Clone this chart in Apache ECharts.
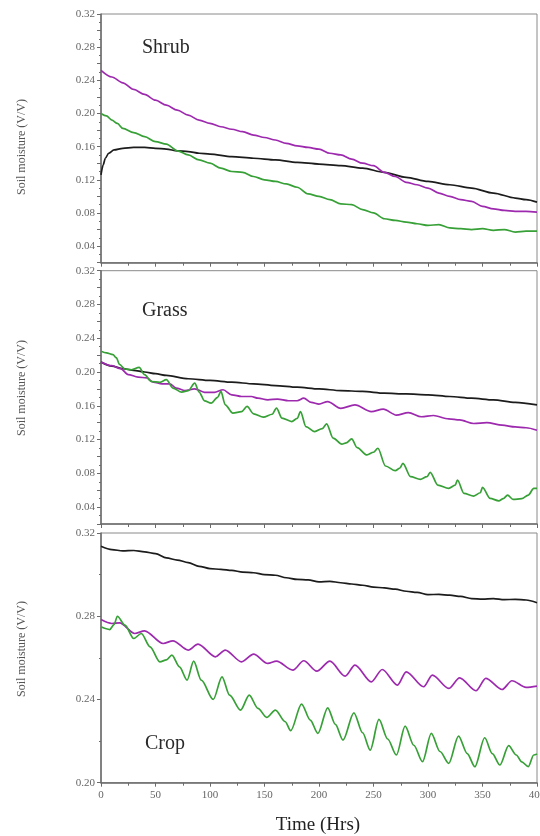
<!DOCTYPE html>
<html>
<head>
<meta charset="utf-8">
<script src="https://cdn.jsdelivr.net/npm/echarts@6/dist/echarts.min.js"></script>
<style>
html,body{margin:0;padding:0;background:#fff;}
#chart{width:540px;height:836px;}
</style>
</head>
<body>
<div id="chart"></div>
<script>
// ---- Data (time in hours, soil moisture V/V) ----
const panelNames = ['Shrub', 'Grass', 'Crop'];
const xTicks = [0, 50, 100, 150, 200, 250, 300, 350, 400];

const shrubBlack = [[0,0.126],[2,0.138],[4,0.146],[7,0.152],[12,0.156],[20,0.158],[30,0.159],[40,0.159],[50,0.158],[60,0.157],[70,0.155],[80,0.154],[90,0.152],[100,0.151],[120,0.148],[140,0.146],[160,0.144],[180,0.141],[200,0.139],[220,0.137],[240,0.134],[260,0.129],[280,0.123],[300,0.118],[320,0.114],[340,0.110],[360,0.104],[380,0.098],[390,0.096],[400,0.093]];
const shrubPurple = [[0,0.252],[10,0.244],[20,0.237],[30,0.229],[40,0.223],[50,0.216],[60,0.210],[70,0.204],[80,0.198],[90,0.192],[100,0.188],[110,0.184],[120,0.181],[130,0.178],[140,0.174],[150,0.171],[160,0.168],[170,0.164],[180,0.161],[190,0.159],[200,0.157],[210,0.152],[220,0.150],[230,0.145],[240,0.140],[250,0.137],[260,0.129],[270,0.124],[280,0.117],[290,0.114],[300,0.110],[310,0.104],[320,0.100],[330,0.096],[340,0.094],[350,0.088],[360,0.085],[370,0.083],[380,0.082],[390,0.082],[400,0.081]];
const shrubGreen = [[0,0.200],[5,0.197],[10,0.192],[15,0.188],[20,0.182],[30,0.177],[40,0.172],[50,0.166],[60,0.163],[70,0.155],[80,0.150],[90,0.144],[100,0.140],[110,0.134],[120,0.130],[130,0.129],[140,0.124],[150,0.120],[160,0.118],[170,0.115],[180,0.111],[190,0.103],[200,0.100],[210,0.096],[220,0.091],[230,0.090],[240,0.084],[250,0.080],[260,0.073],[270,0.071],[280,0.069],[290,0.067],[300,0.065],[310,0.066],[320,0.062],[330,0.061],[340,0.060],[350,0.061],[360,0.059],[370,0.060],[380,0.057],[390,0.058],[400,0.058]];

const grassBlack = [[0,0.212],[10,0.207],[20,0.204],[30,0.202],[40,0.200],[50,0.198],[60,0.196],[80,0.192],[100,0.190],[120,0.188],[140,0.186],[160,0.184],[180,0.182],[200,0.180],[220,0.178],[240,0.177],[260,0.175],[280,0.174],[300,0.173],[320,0.171],[340,0.169],[360,0.167],[380,0.164],[400,0.161]];
const grassPurple = [[0,0.212],[10,0.2075],[18,0.204],[25,0.197],[34,0.194],[42,0.193],[48,0.188],[56,0.186],[63,0.186],[69,0.181],[77,0.178],[86,0.180],[95,0.176],[104,0.176],[112,0.179],[120,0.173],[129,0.171],[138,0.171],[144,0.169],[153,0.167],[162,0.168],[172,0.166],[180,0.166],[186,0.169],[193,0.164],[200,0.162],[208,0.165],[220,0.157],[233,0.161],[248,0.153],[259,0.156],[271,0.149],[282,0.152],[294,0.147],[305,0.1485],[319,0.1445],[329,0.1433],[342,0.139],[354,0.140],[368,0.137],[380,0.135],[390,0.134],[400,0.131]];
const grassGreen = [[0,0.2245],[5,0.2226],[11,0.2206],[14,0.217],[17,0.209],[22,0.2036],[28,0.2027],[35,0.2055],[40,0.1968],[46,0.1888],[54,0.1877],[60,0.1909],[66,0.181],[74,0.1762],[80,0.178],[86,0.1869],[90,0.1762],[95,0.1659],[101,0.1632],[107,0.170],[110,0.177],[114,0.1612],[121,0.1513],[129,0.153],[134,0.1592],[140,0.1505],[149,0.1466],[157,0.150],[161,0.1572],[166,0.1454],[175,0.1413],[180,0.145],[183,0.1532],[188,0.1354],[196,0.1294],[203,0.133],[207,0.1386],[213,0.1216],[221,0.1145],[225,0.116],[230,0.1208],[235,0.1104],[244,0.1018],[250,0.105],[254,0.1097],[261,0.0887],[270,0.0831],[274,0.086],[277,0.0919],[284,0.076],[293,0.0729],[299,0.076],[302,0.0812],[309,0.0661],[319,0.0622],[325,0.066],[327,0.0721],[333,0.0563],[342,0.0531],[348,0.057],[350,0.0634],[357,0.0503],[365,0.0475],[369,0.050],[373,0.0543],[378,0.0491],[386,0.050],[392,0.0543],[397,0.0622],[400,0.0622]];

const cropBlack = [[0,0.3136],[10,0.312],[20,0.3114],[30,0.3116],[40,0.3109],[50,0.3101],[60,0.308],[70,0.307],[80,0.3058],[90,0.304],[100,0.3029],[110,0.3025],[120,0.302],[130,0.3012],[140,0.3009],[150,0.300],[160,0.2997],[170,0.2985],[180,0.2977],[190,0.2975],[200,0.2965],[210,0.2968],[220,0.2961],[230,0.2955],[240,0.2949],[250,0.294],[260,0.2936],[270,0.293],[280,0.292],[290,0.2915],[300,0.2904],[310,0.2905],[320,0.2901],[330,0.2895],[340,0.2885],[350,0.2882],[360,0.2885],[370,0.288],[380,0.2881],[390,0.2878],[400,0.2865]];
const cropPurple = [[0,0.2784],[10,0.2765],[17,0.2768],[31,0.2717],[40,0.2730],[57,0.2669],[66,0.2682],[80,0.2637],[89,0.2666],[105,0.2605],[114,0.2637],[129,0.2581],[140,0.2618],[153,0.2573],[161,0.2584],[176,0.2541],[186,0.2586],[198,0.2536],[210,0.2584],[224,0.2512],[233,0.2565],[248,0.2485],[258,0.2544],[272,0.2469],[280,0.2533],[296,0.2461],[304,0.2517],[319,0.2453],[329,0.2504],[344,0.2442],[353,0.2501],[368,0.2448],[377,0.2490],[390,0.2458],[400,0.2464]];
const cropGreen = [[0,0.2749],[8,0.2736],[12,0.276],[15,0.2800],[22,0.2757],[30,0.2693],[37,0.2717],[45,0.2653],[54,0.2581],[60,0.259],[65,0.2613],[72,0.2557],[79,0.2493],[85,0.2584],[92,0.2493],[103,0.2400],[111,0.2509],[118,0.2421],[128,0.2349],[136,0.2421],[144,0.2357],[152,0.2314],[160,0.2349],[169,0.2293],[174,0.2250],[184,0.2378],[192,0.2301],[199,0.2237],[208,0.2360],[215,0.228],[222,0.2205],[232,0.2336],[240,0.224],[247,0.2157],[255,0.2304],[263,0.221],[271,0.2133],[279,0.2272],[287,0.218],[295,0.2101],[303,0.2237],[311,0.215],[319,0.2093],[328,0.2224],[336,0.214],[343,0.2077],[352,0.2216],[359,0.214],[366,0.2085],[374,0.2178],[381,0.2133],[386,0.210],[392,0.2077],[397,0.2133],[400,0.2138]];

// ---- Styling ----
const SERIF = "'Liberation Serif','Times New Roman',serif";
const AX = '#6b6b6b';
const COLORS = { black: '#1c1c1c', purple: '#9d2aae', green: '#37a037' };

const grids = [
  { left: 101, width: 436, top: 14, height: 248.7 },
  { left: 101, width: 436, top: 270.7, height: 253.3 },
  { left: 101, width: 436, top: 533, height: 249.7 }
].map(g => Object.assign(g, { show: true, borderColor: '#8a8a8a', borderWidth: 1, backgroundColor: 'transparent', containLabel: false, outerBoundsMode: 'none' }));

function xAxisFor(i) {
  const bottom = i === 2;
  return {
    type: 'value', gridIndex: i, min: 0, max: 400, interval: 50,
    axisLine: { show: true, onZero: false, lineStyle: { color: AX, width: 1.5 } },
    axisTick: { show: true, inside: false, length: 4, lineStyle: { color: AX } },
    minorTick: { show: true, splitNumber: 2, length: 3, lineStyle: { color: AX } },
    splitLine: { show: false },
    axisLabel: { show: bottom, color: '#666', fontFamily: SERIF, fontSize: 11, margin: 7, hideOverlap: false,
      showMinLabel: true, showMaxLabel: true }
  };
}
function yAxisFor(i) {
  const isCrop = i === 2;
  return {
    type: 'value', gridIndex: i,
    min: isCrop ? 0.20 : 0.02, max: 0.32, interval: isCrop ? 0.04 : 0.02,
    axisLine: { show: true, onZero: false, lineStyle: { color: AX, width: 1.5 } },
    axisTick: { show: true, inside: false, length: 4, lineStyle: { color: AX } },
    minorTick: { show: true, splitNumber: 2, length: 2, lineStyle: { color: AX } },
    splitLine: { show: false },
    axisLabel: {
      color: '#666', fontFamily: SERIF, fontSize: 11, margin: 6, hideOverlap: false,
      showMinLabel: true, showMaxLabel: true,
      formatter: v => (Math.round(v * 100) % 4 === 0 ? v.toFixed(2) : '')
    }
  };
}

function line(data, color, idx) {
  return {
    type: 'line', data: data, xAxisIndex: idx, yAxisIndex: idx,
    showSymbol: false, symbol: 'none', smooth: 0.3, smoothMonotone: 'x',
    lineStyle: { color: color, width: 1.7 }, silent: true, animation: false, z: 3
  };
}

const series = [
  line(shrubBlack, COLORS.black, 0), line(shrubPurple, COLORS.purple, 0), line(shrubGreen, COLORS.green, 0),
  line(grassBlack, COLORS.black, 1), line(grassPurple, COLORS.purple, 1), line(grassGreen, COLORS.green, 1),
  line(cropBlack, COLORS.black, 2), line(cropPurple, COLORS.purple, 2), line(cropGreen, COLORS.green, 2)
];

const yTitleCenters = [147, 388, 649];
const panelLabelPos = [[142, 48], [142, 311], [145, 744]];
const graphics = [];
yTitleCenters.forEach(cy => graphics.push({
  type: 'text', x: 22, y: cy, rotation: Math.PI / 2,
  style: { text: 'Soil moisture (V/V)', font: '12px ' + SERIF, fill: '#555', align: 'center', verticalAlign: 'middle' }
}));
panelNames.forEach((n, i) => graphics.push({
  type: 'text', x: panelLabelPos[i][0], y: panelLabelPos[i][1],
  style: { text: n, font: '20px ' + SERIF, fill: '#2a2a2a', align: 'left', verticalAlign: 'middle' }
}));
graphics.push({
  type: 'text', x: 318, y: 825,
  style: { text: 'Time (Hrs)', font: '19px ' + SERIF, fill: '#222', align: 'center', verticalAlign: 'middle' }
});

const chart = echarts.init(document.getElementById('chart'), null, { renderer: 'canvas' });
chart.setOption({
  animation: false,
  backgroundColor: '#fff',
  grid: grids,
  xAxis: [0, 1, 2].map(xAxisFor),
  yAxis: [0, 1, 2].map(yAxisFor),
  series: series,
  graphic: graphics
});
</script>
</body>
</html>
